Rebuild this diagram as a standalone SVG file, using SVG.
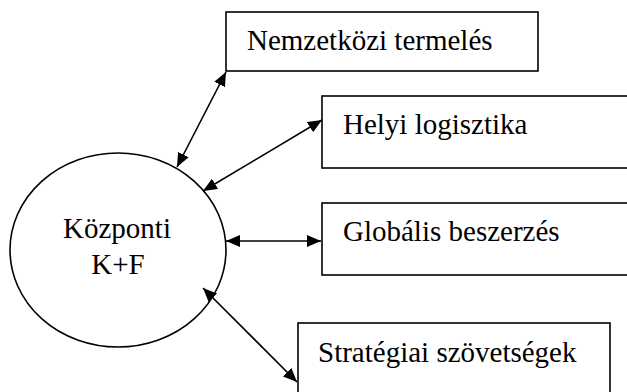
<svg xmlns="http://www.w3.org/2000/svg" width="627" height="392" viewBox="0 0 627 392">
  <style>
    .box { fill: #ffffff; stroke: #000000; stroke-width: 1.6; }
    .hub { fill: #ffffff; stroke: #000000; stroke-width: 1.6; }
    .label { font-size: 29px; fill: #000000; }
    .link { stroke: #000000; stroke-width: 1.6; fill: none; marker-start: url(#head); marker-end: url(#head); }
  </style>
  <defs>
    <marker id="head" viewBox="0 0 14 12" refX="14" refY="6" markerWidth="14" markerHeight="12" markerUnits="userSpaceOnUse" orient="auto-start-reverse">
      <path d="M0,0 L14,6 L0,12 Z" fill="#000000"/>
    </marker>
  </defs>
  <rect width="627" height="392" fill="#ffffff"/>

  <g font-family="'Liberation Serif', 'Times New Roman', 'DejaVu Serif', serif">
    <g id="kozponti">
      <ellipse class="hub" cx="118" cy="250" rx="108" ry="97"/>
      <text class="label" x="117" y="238" text-anchor="middle">Központi</text>
      <text class="label" x="118" y="274" text-anchor="middle">K+F</text>
    </g>

    <g id="nemzetkozi">
      <rect class="box" x="226" y="12" width="312" height="59"/>
      <text class="label" x="247" y="50">Nemzetközi termelés</text>
    </g>

    <g id="helyi">
      <rect class="box" x="322" y="96" width="320" height="72"/>
      <text class="label" x="343" y="134">Helyi logisztika</text>
    </g>

    <g id="globalis">
      <rect class="box" x="322" y="203" width="320" height="72"/>
      <text class="label" x="343" y="241">Globális beszerzés</text>
    </g>

    <g id="strategiai">
      <rect class="box" x="298" y="323" width="312" height="80"/>
      <text class="label" x="318" y="362">Stratégiai szövetségek</text>
    </g>
  </g>

  <g id="connectors">
    <line class="link" x1="177" y1="167" x2="226" y2="72"/>
    <line class="link" x1="203" y1="191" x2="322" y2="120"/>
    <line class="link" x1="226" y1="241" x2="321" y2="241"/>
    <line class="link" x1="203" y1="288" x2="297" y2="382"/>
  </g>
</svg>
